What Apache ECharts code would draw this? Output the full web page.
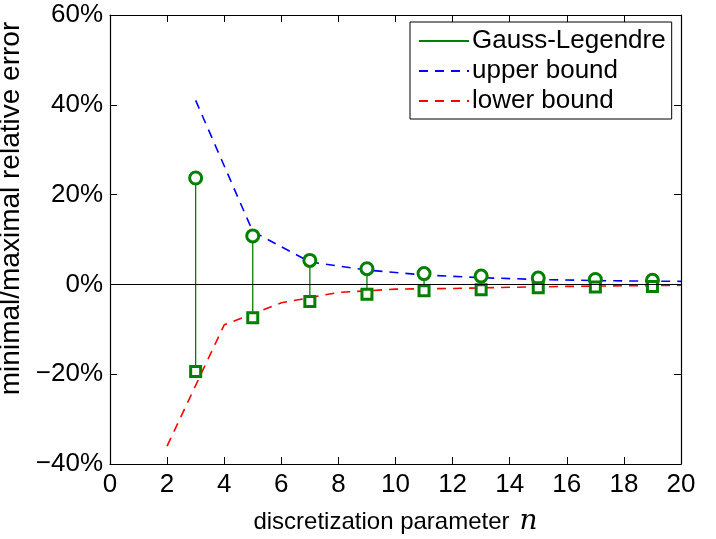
<!DOCTYPE html>
<html>
<head>
<meta charset="utf-8">
<script src="https://cdn.jsdelivr.net/npm/echarts@6/dist/echarts.min.js"></script>
<style>
html,body{margin:0;padding:0;background:#fff;}
#chart{width:716px;height:539px;}
</style>
</head>
<body>
<div id="chart"></div>
<script>
// Gauss-Legendre: maximal (circles) and minimal (squares) relative error, in %
var nValues = [3, 5, 7, 9, 11, 13, 15, 17, 19];
var maxError = [23.7, 10.8, 5.35, 3.5, 2.4, 1.85, 1.4, 1.1, 0.9];
var minError = [-19.4, -7.4, -3.8, -2.2, -1.4, -1.2, -0.75, -0.6, -0.45];

// bounds
var upperN = [3, 5, 7, 9, 11, 13, 15, 17, 19, 20];
var upperBound = [41, 11.8, 5.0, 3.2, 2.1, 1.5, 1.1, 0.85, 0.72, 0.68];
var lowerN = [2, 4, 6, 8, 10, 12, 14, 16, 18, 20];
var lowerBound = [-36, -9, -4.1, -1.8, -1.05, -0.9, -0.65, -0.45, -0.3, -0.2];

var xTicks = [0, 2, 4, 6, 8, 10, 12, 14, 16, 18, 20];
var yTicks = [-40, -20, 0, 20, 40, 60];

var GREEN = '#008000', BLUE = '#0000ff', RED = '#ff0000';
var FONT = 'Liberation Sans';

function pairs(xs, ys) { return xs.map(function (x, i) { return [x, ys[i]]; }); }

// vertical stems from min to max, separated by gaps
var stems = [];
nValues.forEach(function (n, i) {
  stems.push([n, minError[i]], [n, maxError[i]], '-');
});

var chart = echarts.init(document.getElementById('chart'));
var axisLine = { show: true, onZero: false, lineStyle: { color: '#000', width: 1.2 } };
var tick = { show: true, inside: true, length: 7, lineStyle: { color: '#000', width: 1 } };

chart.setOption({
  animation: false,
  textStyle: { fontFamily: FONT },
  grid: { left: 110, right: 35, top: 15, bottom: 75, outerBoundsMode: 'none', containLabel: false },
  legend: {
    data: ['Gauss-Legendre', 'upper bound', 'lower bound'],
    orient: 'vertical',
    left: 410, top: 22,
    backgroundColor: '#fff',
    borderColor: '#000', borderWidth: 1,
    padding: [4, 6, 3, 8],
    itemWidth: 50, itemHeight: 14, itemGap: 0,
    itemStyle: { color: 'transparent', borderColor: 'transparent', borderWidth: 0, opacity: 0 },
    textStyle: { fontFamily: FONT, fontSize: 26, color: '#000', padding: [0, 0, 0, -2], lineHeight: 30 }
  },
  xAxis: [{
    type: 'value', min: 0, max: 20, interval: 2,
    axisLine: axisLine, axisTick: tick, splitLine: { show: false },
    axisLabel: { color: '#000', fontSize: 26, margin: 8,
      formatter: function (v) { return xTicks.indexOf(v) >= 0 ? String(v) : ''; } },
    name: '{t|discretization parameter}   {n|n}',
    nameLocation: 'middle', nameGap: 44,
    nameTextStyle: { rich: {
      t: { fontFamily: FONT, fontSize: 24, color: '#000' },
      n: { fontFamily: 'DejaVu Serif', fontStyle: 'italic', fontSize: 28, color: '#000' }
    } }
  }, {
    type: 'value', position: 'top', min: 0, max: 20, interval: 2,
    axisLine: axisLine, axisTick: tick, axisLabel: { show: false }, splitLine: { show: false }
  }],
  yAxis: [{
    type: 'value', min: -40, max: 60, interval: 20,
    axisLine: axisLine, axisTick: tick, splitLine: { show: false },
    axisLabel: { color: '#000', fontSize: 26, margin: 7,
      formatter: function (v) {
        if (yTicks.indexOf(v) < 0) return '';
        return (v < 0 ? '\u2212' + Math.abs(v) : String(v)) + '%';
      } },
    name: 'minimal/maximal relative error',
    nameLocation: 'middle', nameGap: 68,
    nameTextStyle: { color: '#000', fontSize: 28, fontFamily: FONT, padding: [0, 0, 0, 62] }
  }, {
    type: 'value', position: 'right', min: -40, max: 60, interval: 20,
    axisLine: axisLine, axisTick: tick, axisLabel: { show: false }, splitLine: { show: false }
  }],
  series: [{
    name: 'Gauss-Legendre', type: 'line', data: stems,
    symbol: 'none', connectNulls: false, color: GREEN,
    lineStyle: { color: GREEN, width: 1.3 },
    markLine: {
      silent: true, symbol: 'none', label: { show: false },
      lineStyle: { color: '#000', width: 1, type: 'solid' },
      data: [{ yAxis: 0 }]
    },
    z: 3
  }, {
    name: 'upper bound', type: 'line', data: pairs(upperN, upperBound),
    symbol: 'none', color: BLUE,
    lineStyle: { color: BLUE, width: 1.6, type: [9, 7] }, z: 2
  }, {
    name: 'lower bound', type: 'line', data: pairs(lowerN, lowerBound),
    symbol: 'none', color: RED,
    lineStyle: { color: RED, width: 1.6, type: [9, 7] }, z: 2
  }, {
    name: 'max', type: 'scatter', data: pairs(nValues, maxError),
    symbol: 'circle', symbolSize: 12,
    itemStyle: { color: '#fff', borderColor: GREEN, borderWidth: 3, opacity: 1 }, z: 4
  }, {
    name: 'min', type: 'scatter', data: pairs(nValues, minError),
    symbol: 'rect', symbolSize: 10,
    itemStyle: { color: '#fff', borderColor: GREEN, borderWidth: 3, opacity: 1 }, z: 4
  }]
});
</script>
</body>
</html>
